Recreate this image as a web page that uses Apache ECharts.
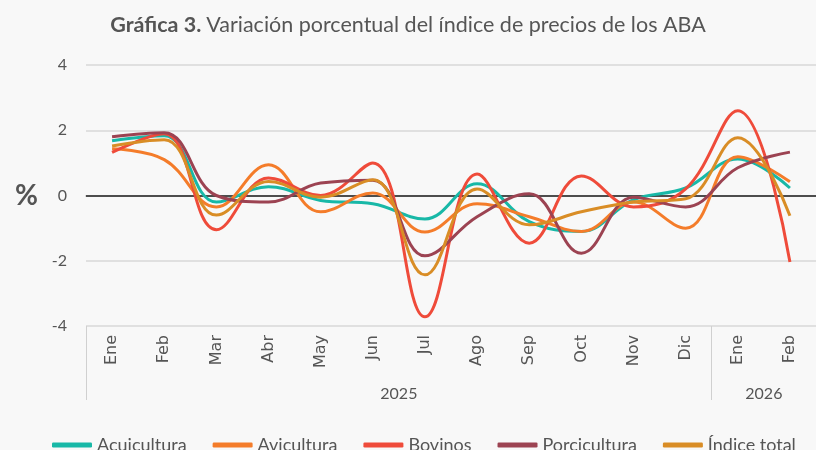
<!doctype html>
<html>
<head>
<meta charset="utf-8">
<title>Gráfica 3</title>
<script src="https://cdn.jsdelivr.net/npm/echarts@6/dist/echarts.min.js"></script>
<style>
	html, body { margin: 0; padding: 0; background: #f8f8f8; }
	#chart { width: 816px; height: 450px; }
</style>
</head>
<body>
<div id="chart"></div>
<script>
	// meses (eje inferior) y años (segundo nivel)
	var months = ['Ene', 'Feb', 'Mar', 'Abr', 'May', 'Jun', 'Jul', 'Ago', 'Sep', 'Oct', 'Nov', 'Dic', 'Ene', 'Feb'];
	var years = ['2025', '2026'];
	var monthsPerYear = [12, 2];

	var acuicultura = [1.68, 1.83, -0.2, 0.27, -0.15, -0.25, -0.72, 0.36, -0.8, -1.1, -0.13, 0.23, 1.12, 0.23];
	var avicultura = [1.43, 1.1, -0.35, 0.94, -0.5, 0.08, -1.12, -0.25, -0.65, -1.1, -0.2, -1.0, 1.19, 0.42];
	var bovinos = [1.32, 1.89, -1.05, 0.54, 0.0, 1.0, -3.72, 0.66, -1.46, 0.6, -0.35, 0.2, 2.6, -2.04];
	var porcicultura = [1.8, 1.92, 0.0, -0.2, 0.38, 0.47, -1.85, -0.65, 0.05, -1.77, -0.05, -0.35, 0.85, 1.33];
	var indiceTotal = [1.52, 1.71, -0.6, 0.43, -0.05, 0.48, -2.43, 0.2, -0.9, -0.5, -0.2, -0.1, 1.77, -0.62];

	var yTicks = [-4, -2, 0, 2, 4];

	// bordes y centros de cada año sobre el eje de valores 0..14
	var yearEdges = [0];
	var yearCenters = [];
	for (var i = 0; i < monthsPerYear.length; i++) {
		var start = yearEdges[yearEdges.length - 1];
		yearEdges.push(start + monthsPerYear[i]);
		yearCenters.push(start + monthsPerYear[i] / 2);
	}

	var chart = echarts.init(document.getElementById('chart'));

	function serie(name, data, color) {
		return {
			name: name,
			type: 'line',
			data: data,
			smooth: 0.4,
			showSymbol: false,
			symbol: 'none',
			lineStyle: { color: color, width: 3 },
			itemStyle: { color: color }
		};
	}

	var series = [
		serie('Acuicultura', acuicultura, '#18b8a7'),
		serie('Avicultura', avicultura, '#f47c2a'),
		serie('Bovinos', bovinos, '#ef4b3a'),
		serie('Porcicultura', porcicultura, '#9c4352'),
		serie('Índice total', indiceTotal, '#d98d26')
	];
	// línea del cero
	series[0].markLine = {
		silent: true,
		symbol: 'none',
		label: { show: false },
		lineStyle: { color: '#4d4d4d', width: 2, type: 'solid' },
		data: [{ yAxis: 0 }],
		z: 1
	};

	var option = {
		backgroundColor: '#f8f8f8',
		animation: false,
		title: {
			text: '{b|Gráfica 3.} {n|Variación porcentual del índice de precios de los ABA}',
			left: 'center',
			top: 9,
			textStyle: {
				rich: {
					b: { fontFamily: 'Lato', fontSize: 21.5, fontWeight: 'bold', color: '#555' },
					n: { fontFamily: 'Lato', fontSize: 21.5, fontWeight: 'normal', color: '#555' }
				}
			}
		},
		legend: {
			top: 431,
			left: 47,
			icon: 'roundRect',
			itemWidth: 40,
			itemHeight: 5,
			itemGap: 26,
			textStyle: { fontFamily: 'Lato', fontSize: 18, color: '#555' },
			data: ['Acuicultura', 'Avicultura', 'Bovinos', 'Porcicultura', 'Índice total']
		},
		grid: {
			left: 86,
			right: -5,
			top: 65,
			bottom: 124
		},
		xAxis: [{
			type: 'category',
			data: months,
			boundaryGap: true,
			axisLine: { show: true, lineStyle: { color: '#d0d0d0', width: 2 } },
			axisTick: { show: false },
			axisLabel: {
				rotate: 90,
				margin: 9,
				fontFamily: 'DejaVu Sans',
				fontSize: 16,
				color: '#555'
			}
		}, {
			type: 'value',
			min: 0,
			max: months.length,
			position: 'bottom',
			axisLine: { show: false },
			splitLine: { show: false },
			axisTick: {
				show: true,
				customValues: yearEdges,
				length: 74,
				lineStyle: { color: '#d0d0d0', width: 1 }
			},
			axisLabel: {
				customValues: yearCenters,
				margin: 60,
				fontFamily: 'Lato',
				fontSize: 16,
				color: '#555',
				formatter: function(v) {
					for (var k = 0; k < yearCenters.length; k++) {
						if (Math.abs(yearCenters[k] - v) < 0.01) return years[k];
					}
					return '';
				}
			}
		}],
		yAxis: {
			type: 'value',
			min: yTicks[0],
			max: yTicks[yTicks.length - 1],
			interval: 2,
			name: '%',
			nameLocation: 'middle',
			nameRotate: 0,
			nameGap: 48,
			nameTextStyle: { fontFamily: 'Lato', fontSize: 28, fontWeight: 'bold', color: '#555' },
			axisLine: { show: false },
			axisTick: { show: false },
			axisLabel: { margin: 19, fontFamily: 'Lato', fontSize: 16, color: '#555' },
			splitLine: { lineStyle: { color: '#d9d9d9', width: 1.5 } }
		},
		series: series
	};

	chart.setOption(option);
</script>
</body>
</html>
